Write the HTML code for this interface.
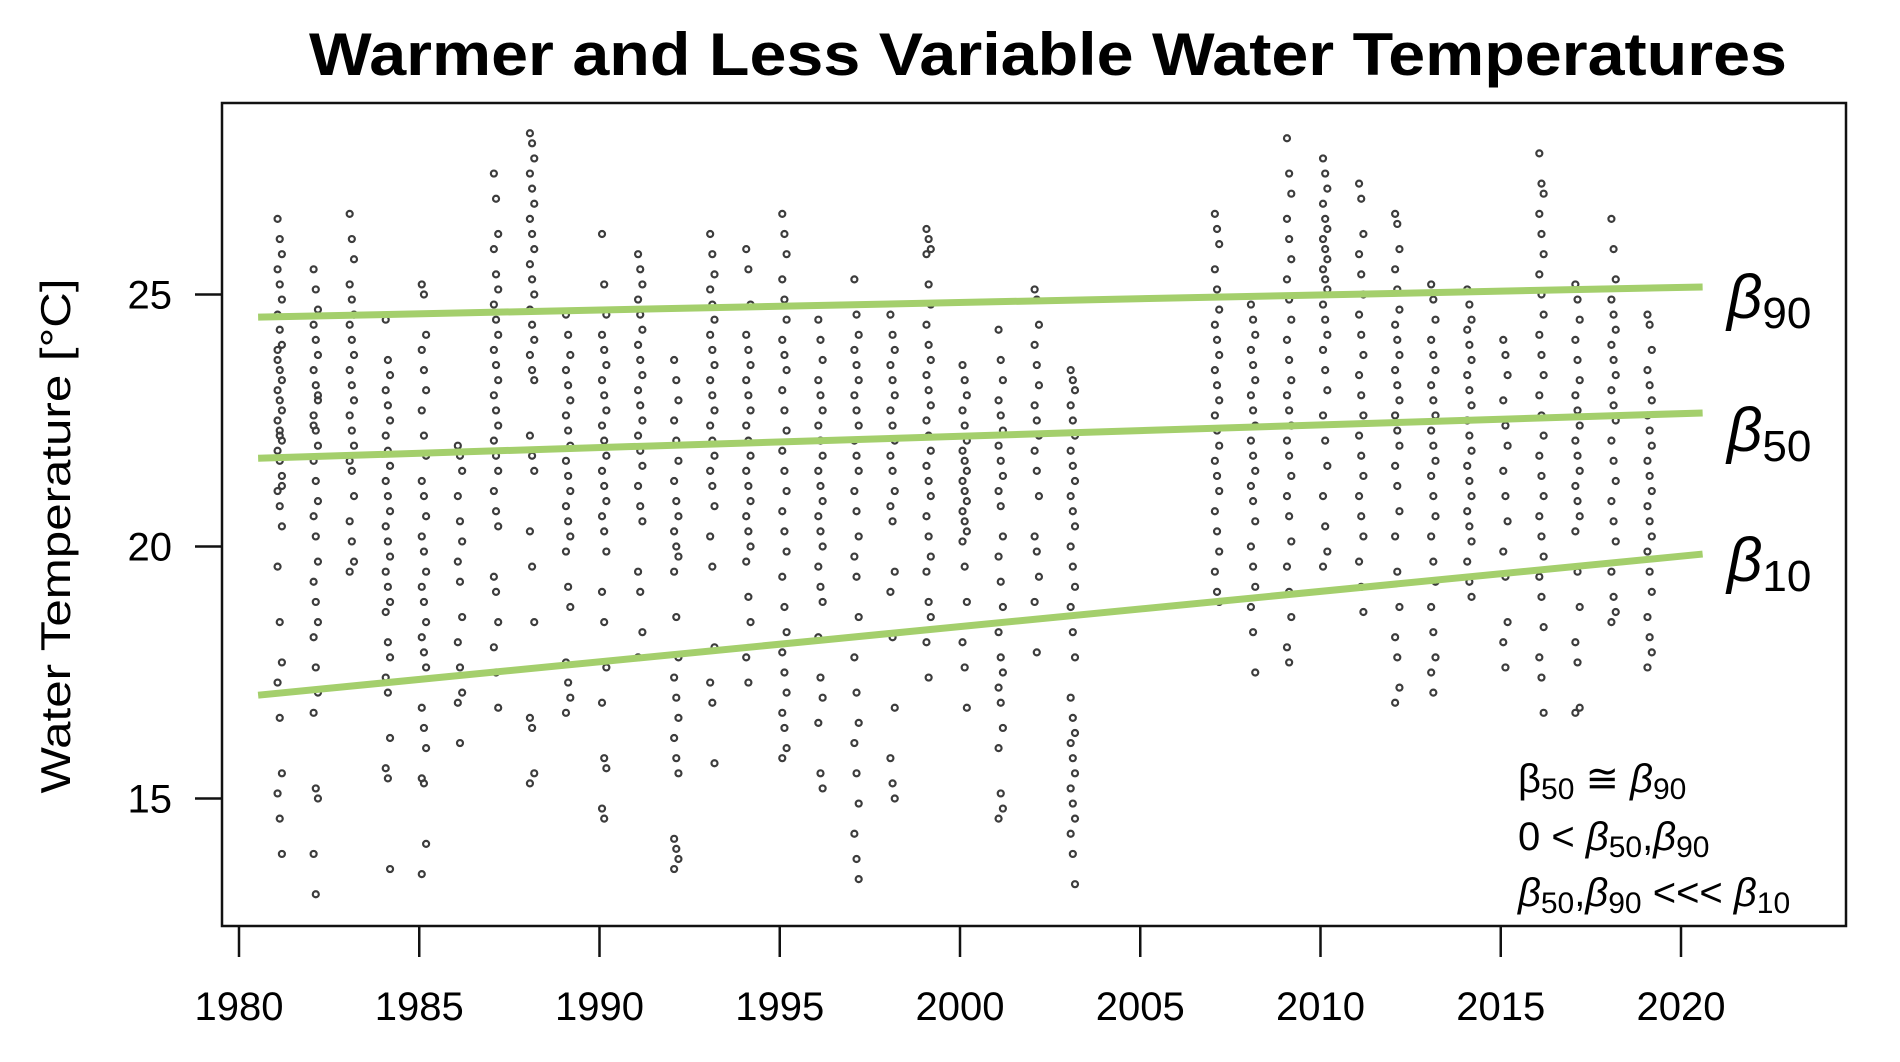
<!DOCTYPE html>
<html><head><meta charset="utf-8"><style>
body{margin:0;background:#fff;}
svg{display:block;font-family:"Liberation Sans",Arial,sans-serif;}
</style></head><body>
<svg id="chart" width="1900" height="1062" viewBox="0 0 1900 1062" xmlns="http://www.w3.org/2000/svg">
<rect width="1900" height="1062" fill="#fff"/>
<text x="1048" y="75" text-anchor="middle" font-size="60" font-weight="bold" textLength="1478" lengthAdjust="spacingAndGlyphs">Warmer and Less Variable Water Temperatures</text>
<text transform="translate(70,536) rotate(-90)" text-anchor="middle" font-size="42" textLength="515" lengthAdjust="spacingAndGlyphs">Water Temperature [°C]</text>
<g id="points"></g>
<g id="lines"></g>
<rect x="222" y="103" width="1624" height="823" fill="none" stroke="#111" stroke-width="2.5"/>
<g id="xaxis"></g>
<g id="yaxis"></g>
<g font-size="62">
<text x="1727" y="318"><tspan font-style="italic">β</tspan><tspan font-size="44" dy="10">90</tspan></text>
<text x="1727" y="451"><tspan font-style="italic">β</tspan><tspan font-size="44" dy="10">50</tspan></text>
<text x="1727" y="581"><tspan font-style="italic">β</tspan><tspan font-size="44" dy="10">10</tspan></text>
</g>
<g font-size="40">
<text x="1518" y="792">β<tspan font-size="30" dy="7">50</tspan><tspan dy="-7"> ≅ </tspan><tspan font-style="italic">β</tspan><tspan font-size="30" dy="7">90</tspan></text>
<text x="1518" y="850">0 &lt; <tspan font-style="italic">β</tspan><tspan font-size="30" dy="7">50</tspan><tspan dy="-7">,</tspan><tspan font-style="italic">β</tspan><tspan font-size="30" dy="7">90</tspan></text>
<text x="1518" y="906"><tspan font-style="italic">β</tspan><tspan font-size="30" dy="7">50</tspan><tspan dy="-7">,</tspan><tspan font-style="italic">β</tspan><tspan font-size="30" dy="7">90</tspan><tspan dy="-7"> &lt;&lt;&lt; </tspan><tspan font-style="italic">β</tspan><tspan font-size="30" dy="7">10</tspan></text>
</g>
</svg>
<script>
const xTicks=[1980,1985,1990,1995,2000,2005,2010,2015,2020];
const yTicks=[15,20,25];
const years=[1981,1982,1983,1984,1985,1986,1987,1988,1989,1990,1991,1992,1993,1994,1995,1996,1997,1998,1999,2000,2001,2002,2003,2007,2008,2009,2010,2011,2012,2013,2014,2015,2016,2017,2018,2019];
const temps=[
[26.5,26.1,25.8,25.5,25.2,24.9,24.6,24.3,24,23.7,23.5,23.3,23.1,22.9,22.7,22.5,22.3,22.1,21.9,21.7,21.4,21.1,20.8,20.4,19.6,18.5,17.7,17.3,16.6,15.5,15.1,14.6,13.9,23.9,22.2,21.2],
[25.5,25.1,24.7,24.4,24.1,23.8,23.5,23.2,22.9,22.6,22.3,22,21.7,21.3,20.9,20.6,20.2,19.7,19.3,18.9,18.5,18.2,17.6,17.1,16.7,15.2,15.0,13.9,13.1,23.0,22.4],
[26.6,26.1,25.7,25.2,24.9,24.6,24.4,24.1,23.8,23.5,23.2,22.9,22.6,22.3,22,21.7,21.5,21,20.5,20.1,19.7,19.5],
[24.5,23.7,23.4,23.1,22.8,22.5,22.2,21.9,21.6,21.3,21,20.7,20.4,20.1,19.8,19.5,19.2,18.9,18.7,18.1,17.8,17.4,17.1,16.2,15.6,15.4,13.6],
[25.2,25.0,24.2,23.9,23.5,23.1,22.7,22.2,21.8,21.3,21,20.6,20.2,19.9,19.5,19.2,18.9,18.5,18.2,17.9,17.6,16.8,16.4,16,15.4,15.3,14.1,13.5],
[22,21.8,21.5,21,20.5,20.1,19.7,19.3,18.6,18.1,17.6,17.1,16.9,16.1],
[27.4,26.9,26.2,25.9,25.4,25.1,24.8,24.5,24.2,23.9,23.6,23.3,23,22.7,22.4,22.1,21.8,21.5,21.1,20.7,20.4,19.4,19.1,18.5,18,17.5,16.8],
[28.2,28,27.7,27.4,27.1,26.8,26.5,26.2,25.9,25.6,25.3,25,24.7,24.4,24.1,23.8,23.5,23.3,22.2,21.8,21.5,20.3,19.6,18.5,16.6,16.4,15.5,15.3],
[24.6,24.2,23.8,23.5,23.2,22.9,22.6,22.3,22,21.7,21.4,21.1,20.8,20.5,20.2,19.9,19.2,18.8,17.7,17.3,17,16.7],
[26.2,25.2,24.6,24.2,23.9,23.6,23.3,23,22.7,22.4,22.1,21.8,21.5,21.2,20.9,20.6,20.3,19.9,19.1,18.5,17.6,16.9,15.8,15.6,14.8,14.6],
[25.8,25.5,25.2,24.9,24.6,24.3,24,23.7,23.4,23.1,22.8,22.5,22.2,21.9,21.6,21.2,20.8,20.5,19.5,19.1,18.3,17.8],
[23.7,23.3,22.9,22.5,22.1,21.7,21.3,20.9,20.6,20.3,20,19.8,19.5,18.6,17.8,17.4,17,16.6,16.2,15.8,15.5,14.2,14,13.8,13.6],
[26.2,25.8,25.4,25.1,24.8,24.5,24.2,23.9,23.6,23.3,23,22.7,22.4,22.1,21.8,21.5,21.2,20.8,20.2,19.6,18,17.3,16.9,15.7],
[25.9,25.5,24.8,24.2,23.9,23.6,23.3,23,22.7,22.4,22.1,21.8,21.5,21.2,20.9,20.6,20.3,20,19.7,19,18.5,17.8,17.3],
[26.6,26.2,25.8,25.3,24.9,24.5,24.1,23.8,23.5,23.1,22.7,22.3,21.9,21.5,21.1,20.7,20.3,19.9,19.4,18.8,18.3,17.9,17.5,17.1,16.7,16.4,16,15.8],
[24.5,24.1,23.7,23.3,23,22.7,22.4,22.1,21.8,21.5,21.2,20.9,20.6,20.3,20,19.6,19.2,18.9,18.2,17.4,17,16.5,15.5,15.2],
[25.3,24.6,24.2,23.9,23.6,23.3,23,22.7,22.4,22.1,21.8,21.5,21.1,20.7,20.2,19.8,19.4,18.6,17.8,17.1,16.5,16.1,15.5,14.9,14.3,13.8,13.4],
[24.6,24.2,23.9,23.6,23.3,23,22.7,22.4,22.1,21.8,21.5,21.1,20.8,20.5,19.5,19.1,18.2,16.8,15.8,15.3,15],
[26.3,26.1,25.9,25.8,25.2,24.8,24.4,24,23.7,23.4,23.1,22.8,22.5,22.2,21.9,21.6,21.3,21,20.6,20.2,19.8,19.5,18.9,18.6,18.1,17.4],
[23.6,23.3,23,22.7,22.4,22.1,21.9,21.7,21.5,21.3,21.1,20.9,20.7,20.5,20.3,20.1,19.6,18.9,18.1,17.6,16.8],
[24.3,23.7,23.3,22.9,22.6,22.3,22,21.7,21.4,21.1,20.8,20.2,19.8,19.3,18.8,18.3,17.8,17.5,17.2,16.9,16.4,16,15.1,14.8,14.6],
[25.1,24.9,24.4,24,23.6,23.2,22.8,22.5,22.2,21.9,21.5,21,20.2,19.9,19.4,18.9,17.9],
[23.5,23.3,23.1,22.8,22.5,22.2,21.9,21.6,21.3,21,20.7,20.4,20,19.6,19.2,18.8,18.3,17.8,17,16.6,16.3,16.1,15.8,15.5,15.2,14.9,14.6,14.3,13.9,13.3],
[26.6,26.3,26,25.5,25.1,24.7,24.4,24.1,23.8,23.5,23.2,22.9,22.6,22.3,22,21.7,21.4,21.1,20.7,20.3,19.9,19.5,19.1,18.9],
[24.8,24.5,24.2,23.9,23.6,23.3,23,22.7,22.4,22.1,21.8,21.5,21.2,20.9,20.5,20,19.6,19.2,18.8,18.3,17.5],
[28.1,27.4,27,26.5,26.1,25.7,25.3,24.9,24.5,24.1,23.7,23.3,23,22.7,22.4,22.1,21.8,21.4,21,20.6,20.1,19.6,19.1,18.6,18,17.7],
[27.7,27.4,27.1,26.8,26.5,26.3,26.1,25.9,25.7,25.5,25.3,25.1,24.8,24.5,24.2,23.9,23.5,23.1,22.6,22.1,21.6,21,20.4,19.9,19.6],
[27.2,26.9,26.2,25.8,25.4,25,24.6,24.2,23.8,23.4,23,22.6,22.2,21.8,21.4,21,20.6,20.2,19.7,19.2,18.7],
[26.6,26.4,25.9,25.5,25.1,24.7,24.4,24.1,23.8,23.5,23.2,22.9,22.6,22.3,22,21.6,21.2,20.7,20.2,19.5,18.8,18.2,17.8,17.2,16.9],
[25.2,24.9,24.5,24.1,23.8,23.5,23.2,22.9,22.6,22.3,22,21.7,21.4,21,20.6,20.2,19.7,19.3,18.8,18.3,17.8,17.5,17.1],
[25.1,24.8,24.5,24.3,24,23.7,23.4,23.1,22.8,22.5,22.2,21.9,21.6,21.3,21,20.7,20.4,20.1,19.7,19.3,19],
[24.1,23.8,23.4,22.9,22.4,22,21.5,21,20.5,19.9,19.4,18.5,18.1,17.6],
[27.8,27.2,27,26.6,26.2,25.8,25.4,25,24.6,24.2,23.8,23.4,23,22.6,22.2,21.8,21.4,21,20.6,20.2,19.8,19.4,19,18.4,17.8,17.4,16.7],
[25.2,24.9,24.5,24.1,23.7,23.3,23,22.7,22.4,22.1,21.8,21.5,21.2,20.9,20.6,20.3,19.5,18.8,18.1,17.7,16.8,16.7],
[26.5,25.9,25.3,24.9,24.6,24.3,24,23.7,23.4,23.1,22.8,22.5,22.1,21.7,21.3,20.9,20.5,20.1,19.5,19,18.7,18.5],
[24.6,24.4,23.9,23.5,23.2,22.9,22.6,22.3,22,21.7,21.4,21.1,20.8,20.5,20.2,19.9,19.5,19.1,18.6,18.2,17.9,17.6]
];
const lineNames=['beta90','beta50','beta10'];
const lineStartYear=[1980.53,1980.53,1980.53];
const lineEndYear=[2020.6,2020.6,2020.6];
const lineStartTemp=[24.55,21.75,17.05];
const lineEndTemp=[25.15,22.65,19.85];

const NS='http://www.w3.org/2000/svg';
function xs(yr){return 239+(yr-1980)*36.05;}
function ys(t){return 546.5-(t-20)*50.4;}
function mk(tag,attrs,parent){const e=document.createElementNS(NS,tag);for(const k in attrs)e.setAttribute(k,attrs[k]);parent.appendChild(e);return e;}

const pg=document.getElementById('points');
years.forEach((yr,i)=>{
  temps[i].forEach((t,j)=>{
    const c=mk('circle',{cx:xs(yr+0.07+(j%3)*0.06),cy:ys(t),r:3,fill:'none',stroke:'#3c3c3c','stroke-width':2.2},pg);
    
    
  });
});
const lg=document.getElementById('lines');
lineNames.forEach((n,i)=>{
  const l=mk('line',{x1:xs(lineStartYear[i]),y1:ys(lineStartTemp[i]),x2:xs(lineEndYear[i]),y2:ys(lineEndTemp[i]),stroke:'#a4cf6c','stroke-width':7},lg);
  
  
});
const xg=document.getElementById('xaxis');
xTicks.forEach(v=>{
  const l=mk('line',{x1:xs(v),x2:xs(v),y1:926,y2:957,stroke:'#111','stroke-width':2.5},xg);
  
  
  const t=mk('text',{x:xs(v),y:1020,'text-anchor':'middle','font-size':40},xg);
  
  
  t.textContent=v;
});
const yg=document.getElementById('yaxis');
yTicks.forEach(v=>{
  const l=mk('line',{x1:195,x2:222,y1:ys(v),y2:ys(v),stroke:'#111','stroke-width':2.5},yg);
  
  
  const t=mk('text',{x:172,y:ys(v)+14,'text-anchor':'end','font-size':40},yg);
  
  
  t.textContent=v;
});
</script>
</body></html>
